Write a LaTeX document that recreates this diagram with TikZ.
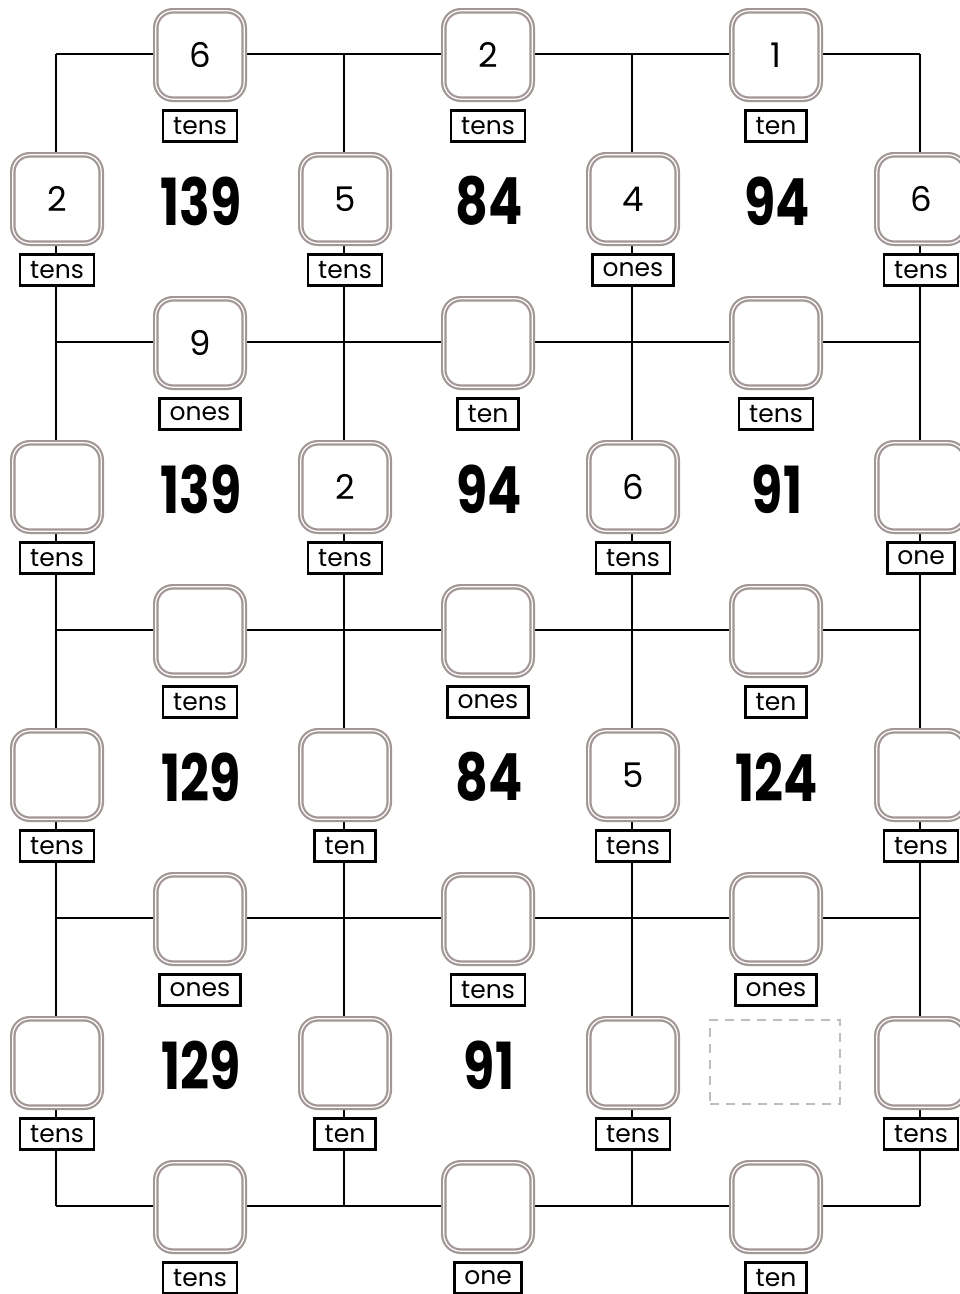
\documentclass[tikz,border=0pt]{standalone}
\usepackage{fontspec}
\setmainfont{Poppins}
\usepackage{graphicx}
\definecolor{boxgray}{RGB}{163,150,150}
\definecolor{dashgray}{RGB}{190,190,190}
\begin{document}
\begin{tikzpicture}[x=1pt,y=-1pt,
  valbox/.style={draw=boxgray, double=white, line width=2.2pt, double distance=1.2pt,
    rounded corners=17pt, fill=white, minimum width=88.4pt, minimum height=88.4pt,
    inner sep=0pt, font=\fontsize{34}{34}\selectfont},
  unitlabel/.style={draw=black, line width=2.6pt, fill=white, inner xsep=10pt,
    inner ysep=0pt, minimum height=31.5pt, font=\fontsize{25}{25}\selectfont},
  total/.style={inner sep=0pt, font=\fontsize{65}{65}\selectfont\bfseries},
  gridline/.style={line width=2.8pt, black},
  blankbox/.style={draw=dashgray, dash pattern=on 9pt off 7pt, line width=2.4pt,
    minimum width=130pt, minimum height=84pt}]
\useasboundingbox (0,0) rectangle (960,1294);
% junctions
\foreach \i in {0,...,3}{
  \foreach \j in {0,...,4}{
    \coordinate (j\i\j) at ({56+288*\i},{54+288*\j});
  }
}
% grid lines
\foreach \j in {0,...,4}{ \draw[gridline] (j0\j) -- (j3\j); }
\foreach \i in {0,...,3}{ \draw[gridline] (j\i0) -- (j\i4); }
% horizontal-edge boxes
\foreach \i/\j/\v/\u in {0/0/6/tens,1/0/2/tens,2/0/1/ten,
    0/1/9/ones,1/1//ten,2/1//tens,
    0/2//tens,1/2//ones,2/2//ten,
    0/3//ones,1/3//tens,2/3//ones,
    0/4//tens,1/4//one,2/4//ten}{
  \node[valbox] (h\i\j) at ({200+288*\i},{55+288*\j}) {\v};
  \node[unitlabel] (hl\i\j) at ([yshift=-71pt]h\i\j.center) {\u};
}
% vertical-edge boxes
\foreach \i/\j/\v/\u in {0/0/2/tens,1/0/5/tens,2/0/4/ones,3/0/6/tens,
    0/1//tens,1/1/2/tens,2/1/6/tens,3/1//one,
    0/2//tens,1/2//ten,2/2/5/tens,3/2//tens,
    0/3//tens,1/3//ten,2/3//tens,3/3//tens}{
  \node[valbox] (v\i\j) at ({57+288*\i},{199+288*\j}) {\v};
  \node[unitlabel] (vl\i\j) at ([yshift=-71pt]v\i\j.center) {\u};
}
% totals
\foreach \i/\j/\n in {0/0/139,1/0/84,2/0/94,
    0/1/139,1/1/94,2/1/91,
    0/2/129,1/2/84,2/2/124,
    0/3/129,1/3/91}{
  \node[total] (t\i\j) at ({201+288*\i},{201+288*\j}) {\scalebox{0.78}[1]{\n}};
}
\node[blankbox] (t23) at (775,1062) {};
\end{tikzpicture}
\end{document}
